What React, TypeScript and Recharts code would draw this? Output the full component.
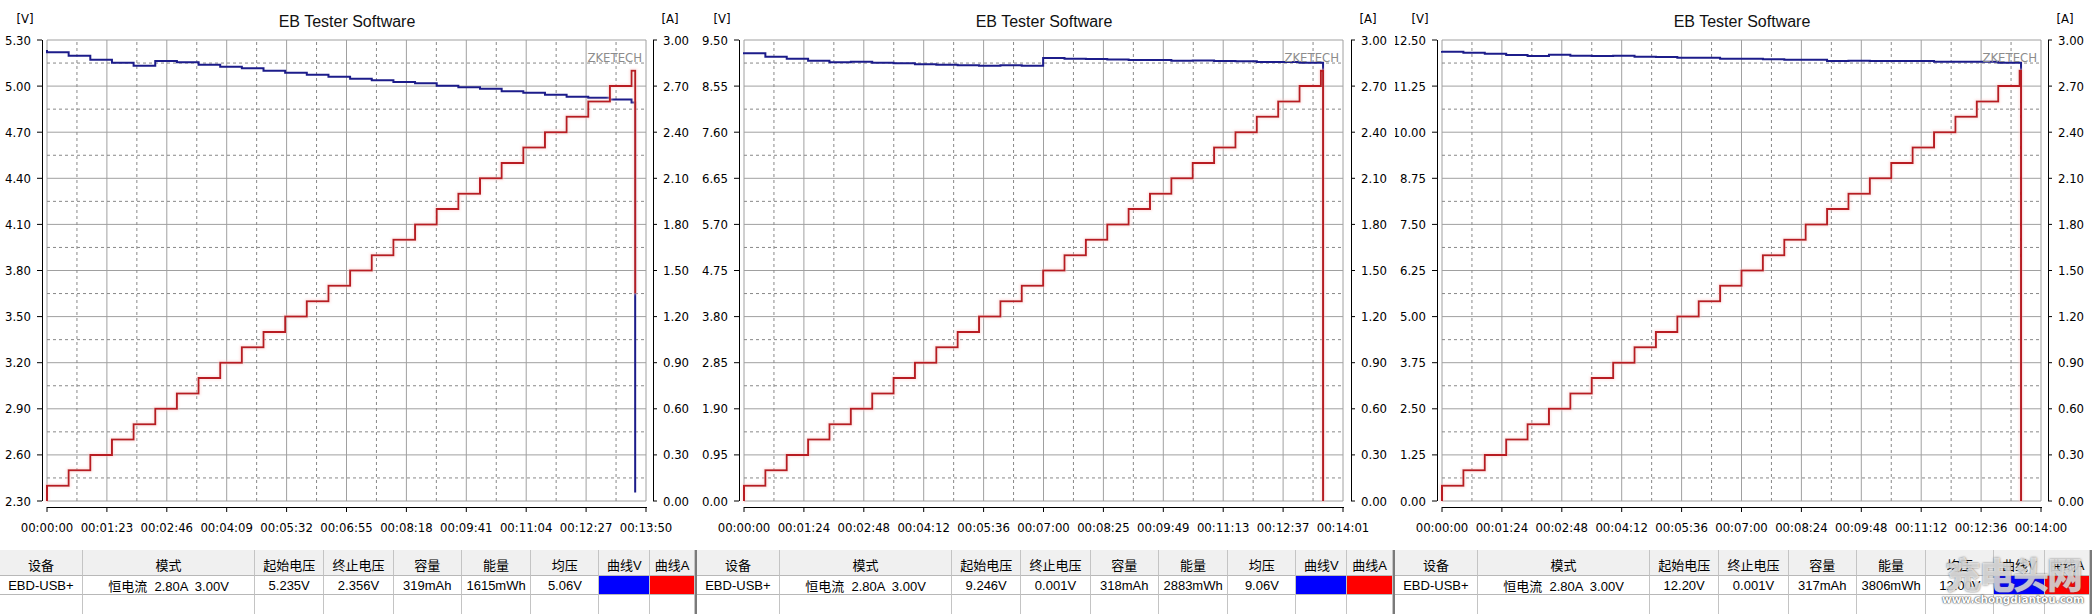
import React from "react";
import { LineChart, Line, XAxis, YAxis, CartesianGrid, ReferenceLine } from "recharts";

// sample times in seconds: start point, one point per 30 s current step, end of test
const p1Time = [0, 0, 30, 60, 90, 120, 150, 180, 210, 240, 270, 300, 330, 360, 390, 420, 450, 480, 510, 540, 570, 600, 630, 660, 690, 720, 750, 780, 810, 815, 815];
const p1Volt = [5.235, 5.22, 5.198, 5.172, 5.152, 5.133, 5.163, 5.155, 5.139, 5.126, 5.116, 5.1, 5.087, 5.074, 5.061, 5.048, 5.038, 5.027, 5.018, 5.003, 4.992, 4.983, 4.966, 4.957, 4.944, 4.931, 4.925, 4.912, 4.894, 4.894, 2.356];
const p1Amp = [0, 0.1, 0.2, 0.3, 0.4, 0.5, 0.6, 0.7, 0.8, 0.9, 1.0, 1.1, 1.2, 1.3, 1.4, 1.5, 1.6, 1.7, 1.8, 1.9, 2.0, 2.1, 2.2, 2.3, 2.4, 2.5, 2.6, 2.7, 2.8, 2.8, 1.35];

const p2Time = [0, 0, 30, 60, 90, 120, 150, 180, 210, 240, 270, 300, 330, 360, 390, 420, 450, 480, 510, 540, 570, 600, 630, 660, 690, 720, 750, 780, 810, 813, 813];
const p2Volt = [9.246, 9.226, 9.156, 9.115, 9.073, 9.04, 9.053, 9.032, 9.02, 9.0, 8.99, 8.98, 8.97, 8.98, 8.97, 9.13, 9.115, 9.11, 9.1, 9.09, 9.087, 9.073, 9.08, 9.066, 9.06, 9.046, 9.046, 9.032, 9.03, 9.01, 0.001];
const p2Amp = [0, 0.1, 0.2, 0.3, 0.4, 0.5, 0.6, 0.7, 0.8, 0.9, 1.0, 1.1, 1.2, 1.3, 1.4, 1.5, 1.6, 1.7, 1.8, 1.9, 2.0, 2.1, 2.2, 2.3, 2.4, 2.5, 2.6, 2.7, 2.8, 2.8, 0];

const p3Time = [0, 0, 30, 60, 90, 120, 150, 180, 210, 240, 270, 300, 330, 360, 390, 420, 450, 480, 510, 540, 570, 600, 630, 660, 690, 720, 750, 780, 810, 812, 812];
const p3Volt = [12.2, 12.184, 12.157, 12.129, 12.093, 12.066, 12.102, 12.075, 12.066, 12.075, 12.048, 12.039, 12.021, 12.021, 11.994, 11.994, 11.976, 11.967, 11.967, 11.931, 11.94, 11.931, 11.931, 11.931, 11.912, 11.912, 11.912, 11.886, 11.886, 11.87, 0.001];
const p3Amp = [0, 0.1, 0.2, 0.3, 0.4, 0.5, 0.6, 0.7, 0.8, 0.9, 1.0, 1.1, 1.2, 1.3, 1.4, 1.5, 1.6, 1.7, 1.8, 1.9, 2.0, 2.1, 2.2, 2.3, 2.4, 2.5, 2.6, 2.7, 2.8, 2.8, 0];

// axis ticks
const p1XTicks = [0, 83, 166, 249, 332, 415, 498, 581, 664, 747, 830];
const p1XLabels = ["00:00:00", "00:01:23", "00:02:46", "00:04:09", "00:05:32", "00:06:55", "00:08:18", "00:09:41", "00:11:04", "00:12:27", "00:13:50"];
const p2XTicks = [0, 84.1, 168.2, 252.3, 336.4, 420.5, 504.6, 588.7, 672.8, 756.9, 841];
const p2XLabels = ["00:00:00", "00:01:24", "00:02:48", "00:04:12", "00:05:36", "00:07:00", "00:08:25", "00:09:49", "00:11:13", "00:12:37", "00:14:01"];
const p3XTicks = [0, 84, 168, 252, 336, 420, 504, 588, 672, 756, 840];
const p3XLabels = ["00:00:00", "00:01:24", "00:02:48", "00:04:12", "00:05:36", "00:07:00", "00:08:24", "00:09:48", "00:11:12", "00:12:36", "00:14:00"];

const p1VTicks = [2.3, 2.6, 2.9, 3.2, 3.5, 3.8, 4.1, 4.4, 4.7, 5.0, 5.3];
const p2VTicks = [0, 0.95, 1.9, 2.85, 3.8, 4.75, 5.7, 6.65, 7.6, 8.55, 9.5];
const p3VTicks = [0, 1.25, 2.5, 3.75, 5.0, 6.25, 7.5, 8.75, 10.0, 11.25, 12.5];
const aTicks = [0, 0.3, 0.6, 0.9, 1.2, 1.5, 1.8, 2.1, 2.4, 2.7, 3.0];

// summary table
const tableHeaders = ["设备", "模式", "起始电压", "终止电压", "容量", "能量", "均压", "曲线V", "曲线A"];
const p1Row = ["EBD-USB+", "恒电流  2.80A  3.00V", "5.235V", "2.356V", "319mAh", "1615mWh", "5.06V"];
const p2Row = ["EBD-USB+", "恒电流  2.80A  3.00V", "9.246V", "0.001V", "318mAh", "2883mWh", "9.06V"];
const p3Row = ["EBD-USB+", "恒电流  2.80A  3.00V", "12.20V", "0.001V", "317mAh", "3806mWh", "12.00V"];

const NARROW = "'Liberation Sans Narrow', 'Arial Narrow', 'DejaVu Sans Condensed', sans-serif";
const SANS = "'Liberation Sans', Arial, 'Noto Sans CJK SC', sans-serif";

const CH_H = 548;
const PLOT_L = 47;
const PLOT_R = 646;
const PLOT_T = 40;
const PLOT_B = 501;
const BLUE = "#1c1c8a";
const RED = "#b81c22";

const mids = (t: number[]) => t.slice(1).map((v, i) => (v + t[i]) / 2);

function LeftTick(props: any) {
  const { y, payload } = props;
  return (
    <g>
      <line x1={37} x2={42} y1={y} y2={y} stroke="#000" />
      <text x={31} y={y} dominantBaseline="central" textAnchor="end" fontFamily={NARROW} fontSize={13} fill="#000">
        {payload.value.toFixed(2)}
      </text>
    </g>
  );
}

function RightTick(props: any) {
  const { y, payload, width } = props;
  const ax = width - 44;
  return (
    <g>
      <line x1={ax} x2={ax + 4} y1={y} y2={y} stroke="#000" />
      <text x={ax + 10} y={y} dominantBaseline="central" textAnchor="start" fontFamily={NARROW} fontSize={13} fill="#000">
        {payload.value.toFixed(2)}
      </text>
    </g>
  );
}

function BottomTick(props: any) {
  const { x, payload, ticks, labels } = props;
  const label = labels[ticks.indexOf(payload.value)];
  return (
    <g>
      <line x1={x} x2={x} y1={PLOT_B + 6} y2={PLOT_B + 11} stroke="#000" />
      <text x={x} y={PLOT_B + 26} dominantBaseline="central" textAnchor="middle" fontFamily={NARROW} fontSize={13} fill="#000">
        {label}
      </text>
    </g>
  );
}

interface PanelProps {
  left: number;
  width: number;
  time: number[];
  volt: number[];
  amp: number[];
  xTicks: number[];
  xLabels: string[];
  vTicks: number[];
  row: string[];
}

function Panel({ left, width, time, volt, amp, xTicks, xLabels, vTicks, row }: PanelProps) {
  const data = time.map((t, i) => ({ t, v: volt[i], a: amp[i] }));
  const xMax = xTicks[xTicks.length - 1];
  const vMin = vTicks[0];
  const vMax = vTicks[vTicks.length - 1];
  const rightW = width - PLOT_R;
  const cols = [83, 173, 69, 70, 68, 70, 68, 51, width - 652];
  const cells = [...row, "", ""];

  return (
    <div style={{ position: "absolute", left, top: 0, width, height: 614 }}>
      <LineChart width={width} height={CH_H} data={data} margin={{ top: PLOT_T, right: 0, bottom: 0, left: 0 }}>
        <CartesianGrid yAxisId="left" stroke="#a0a0a0" fill="#fff" />
        {mids(vTicks).map((m) => (
          <ReferenceLine key={"h" + m} yAxisId="left" y={m} stroke="#888" strokeDasharray="3 3" />
        ))}
        {mids(xTicks).map((m) => (
          <ReferenceLine key={"v" + m} yAxisId="left" x={m} stroke="#888" strokeDasharray="3 3" />
        ))}
        <XAxis
          dataKey="t"
          type="number"
          domain={[0, xMax]}
          ticks={xTicks}
          interval={0}
          height={CH_H - PLOT_B}
          axisLine={false}
          tickLine={false}
          tick={<BottomTick ticks={xTicks} labels={xLabels} />}
        />
        <YAxis
          yAxisId="left"
          type="number"
          domain={[vMin, vMax]}
          ticks={vTicks}
          interval={0}
          width={PLOT_L}
          axisLine={false}
          tickLine={false}
          tick={<LeftTick />}
        />
        <YAxis
          yAxisId="right"
          orientation="right"
          type="number"
          domain={[0, 3]}
          ticks={aTicks}
          interval={0}
          width={rightW}
          axisLine={false}
          tickLine={false}
          tick={<RightTick width={width} />}
        />
        <Line yAxisId="left" dataKey="v" type="stepAfter" stroke={BLUE} strokeWidth={2} dot={false} activeDot={false} isAnimationActive={false} />
        <Line
          yAxisId="right"
          dataKey="a"
          type="stepAfter"
          stroke={RED}
          strokeWidth={2}
          dot={false}
          activeDot={false}
          isAnimationActive={false}
          filter="url(#redGlow)"
        />
      </LineChart>

      <svg width={width} height={CH_H} style={{ position: "absolute", left: 0, top: 0, pointerEvents: "none" }}>
        <line x1={42.5} x2={42.5} y1={PLOT_T} y2={PLOT_B} stroke="#000" />
        <line x1={width - 43.5} x2={width - 43.5} y1={PLOT_T} y2={PLOT_B} stroke="#000" />
        <line x1={PLOT_L} x2={PLOT_R + 1} y1={PLOT_B + 6.5} y2={PLOT_B + 6.5} stroke="#000" />
        <text x={25} y={18} dominantBaseline="central" textAnchor="middle" fontFamily={NARROW} fontSize={13}>[V]</text>
        <text x={width - 27} y={18} dominantBaseline="central" textAnchor="middle" fontFamily={NARROW} fontSize={13}>[A]</text>
        <text x={347} y={21} dominantBaseline="central" textAnchor="middle" fontFamily={SANS} fontSize={16} fill="#111">
          EB Tester Software
        </text>
        <text x={PLOT_R - 4} y={57} dominantBaseline="central" textAnchor="end" fontFamily={NARROW} fontSize={13} fill="#8c8c8c">
          ZKETECH
        </text>
      </svg>

      <div style={{ position: "absolute", left: 0, top: 550, width, fontFamily: SANS, fontSize: 13, color: "#000", borderRight: "2px solid #7a7a7a", boxSizing: "border-box" }}>
        <div style={{ display: "flex", height: 26, background: "#f0f0f0" }}>
          {tableHeaders.map((h, i) => (
            <div key={h} style={{ width: cols[i], boxSizing: "border-box", borderRight: "1px solid #c4c4c4", borderBottom: "1px solid #b8b8b8", display: "flex", alignItems: "center", justifyContent: "center", paddingTop: 3 }}>
              {h}
            </div>
          ))}
        </div>
        <div style={{ display: "flex", height: 19 }}>
          {cells.map((c, i) => (
            <div
              key={i}
              style={{
                width: cols[i],
                boxSizing: "border-box",
                borderRight: "1px solid #c4c4c4",
                borderBottom: "1px solid #b8b8b8",
                display: "flex",
                alignItems: "center",
                justifyContent: "center",
                whiteSpace: "pre",
                background: i === 7 ? "#0000ff" : i === 8 ? "#ff0000" : "#fff",
              }}
            >
              {c}
            </div>
          ))}
        </div>
        <div style={{ display: "flex", height: 19 }}>
          {cols.map((w, i) => (
            <div key={i} style={{ width: w, boxSizing: "border-box", borderRight: "1px solid #c4c4c4", background: "#fff" }} />
          ))}
        </div>
      </div>
    </div>
  );
}

export default function App() {
  return (
    <div style={{ position: "relative", width: 2092, height: 614, background: "#fff", overflow: "hidden" }}>
      <style>{"body{margin:0;background:#fff}"}</style>
      <svg width={0} height={0} style={{ position: "absolute" }}>
        <defs>
          <filter id="redGlow" x="-20%" y="-20%" width="140%" height="140%">
            <feMorphology in="SourceGraphic" operator="dilate" radius="1" result="thick" />
            <feGaussianBlur in="thick" stdDeviation="0.9" result="blur" />
            <feColorMatrix in="blur" type="matrix" values="0 0 0 0 1  0 0 0 0 0.6  0 0 0 0 0.6  0 0 0 0.55 0" result="glow" />
            <feMerge>
              <feMergeNode in="glow" />
              <feMergeNode in="SourceGraphic" />
            </feMerge>
          </filter>
        </defs>
      </svg>
      <Panel left={0} width={697} time={p1Time} volt={p1Volt} amp={p1Amp} xTicks={p1XTicks} xLabels={p1XLabels} vTicks={p1VTicks} row={p1Row} />
      <Panel left={697} width={698} time={p2Time} volt={p2Volt} amp={p2Amp} xTicks={p2XTicks} xLabels={p2XLabels} vTicks={p2VTicks} row={p2Row} />
      <Panel left={1395} width={697} time={p3Time} volt={p3Volt} amp={p3Amp} xTicks={p3XTicks} xLabels={p3XLabels} vTicks={p3VTicks} row={p3Row} />
      <div style={{ position: "absolute", left: 1936, top: 550, width: 154, height: 62, pointerEvents: "none" }}>
        <div style={{ fontFamily: "'Noto Sans CJK SC', sans-serif", fontWeight: 900, fontSize: 36, lineHeight: "46px", letterSpacing: -2, color: "rgba(255,255,255,0.7)", textShadow: "0 0 2px rgba(70,70,70,0.8)", textAlign: "center" }}>
          充电头网
        </div>
        <div style={{ fontFamily: "'DejaVu Sans', sans-serif", fontWeight: 700, fontSize: 10.5, color: "#fff", textShadow: "0 0 2px #444, 0 0 1px #222", textAlign: "center", marginTop: -3 }}>
          www.chongdiantou.com
        </div>
      </div>
    </div>
  );
}
